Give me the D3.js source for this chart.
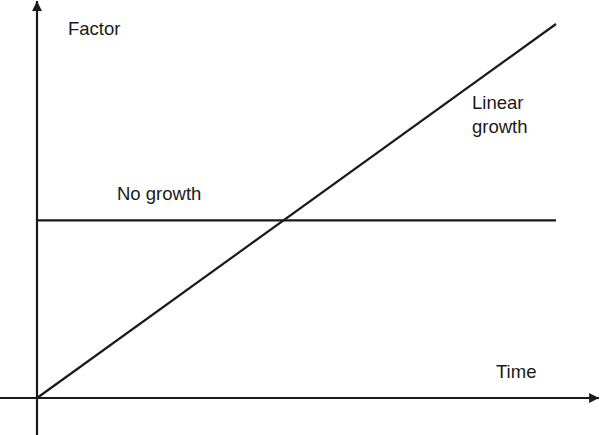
<!DOCTYPE html>
<html>
<head>
<meta charset="utf-8">
<script src="https://cdn.jsdelivr.net/npm/d3@7"></script>
<style>
  html, body { margin: 0; padding: 0; background: #fff; }
  svg { display: block; }
  text { font-family: "Liberation Sans", Arial, sans-serif; font-size: 18.5px; fill: #1a1a1a; }
</style>
</head>
<body>
<svg id="chart" width="600" height="435"></svg>
<script>
// data
const times = [0, 10];
const linearGrowth = [0, 10];
const noGrowth = [4.75, 4.75];
const axisLabels = ["Factor", "Time"];
const seriesLabels = ["No growth", "Linear growth"];

const width = 600, height = 435;
const svg = d3.select("#chart");

// scales
const x = d3.scaleLinear().domain([0, 10]).range([37, 556]);
const y = d3.scaleLinear().domain([0, 10]).range([398, 24]);

// arrowhead
svg.append("defs").append("marker")
  .attr("id", "arrow")
  .attr("viewBox", "0 0 10 10")
  .attr("refX", 10).attr("refY", 5)
  .attr("markerWidth", 4.5).attr("markerHeight", 4.5)
  .attr("markerUnits", "strokeWidth")
  .attr("orient", "auto")
  .append("path")
  .attr("d", "M0,0 L10,5 L0,10 z")
  .attr("fill", "#1a1a1a");

// axes
svg.append("line")
  .attr("x1", 0).attr("x2", width - 1)
  .attr("y1", y(0)).attr("y2", y(0))
  .attr("stroke", "#1a1a1a").attr("stroke-width", 2.2)
  .attr("marker-end", "url(#arrow)");

svg.append("line")
  .attr("x1", x(0)).attr("x2", x(0))
  .attr("y1", height).attr("y2", 1)
  .attr("stroke", "#1a1a1a").attr("stroke-width", 2.2)
  .attr("marker-end", "url(#arrow)");

// lines
const line = d3.line()
  .x(function(d) { return x(d[0]); })
  .y(function(d) { return y(d[1]); });

svg.append("path")
  .datum(times.map(function(t, i) { return [t, noGrowth[i]]; }))
  .attr("d", line)
  .attr("fill", "none").attr("stroke", "#1a1a1a").attr("stroke-width", 2.2);

svg.append("path")
  .datum(times.map(function(t, i) { return [t, linearGrowth[i]]; }))
  .attr("d", line)
  .attr("fill", "none").attr("stroke", "#1a1a1a").attr("stroke-width", 2.2);

// labels
svg.append("text").attr("x", 68).attr("y", 35).text(axisLabels[0]);
svg.append("text").attr("x", 496).attr("y", 378).text(axisLabels[1]);
svg.append("text").attr("x", 117).attr("y", 200).text(seriesLabels[0]);

const lg = svg.append("text").attr("x", 472).attr("y", 109);
lg.append("tspan").attr("x", 472).text("Linear");
lg.append("tspan").attr("x", 472).attr("dy", 24).text("growth");
</script>
</body>
</html>
